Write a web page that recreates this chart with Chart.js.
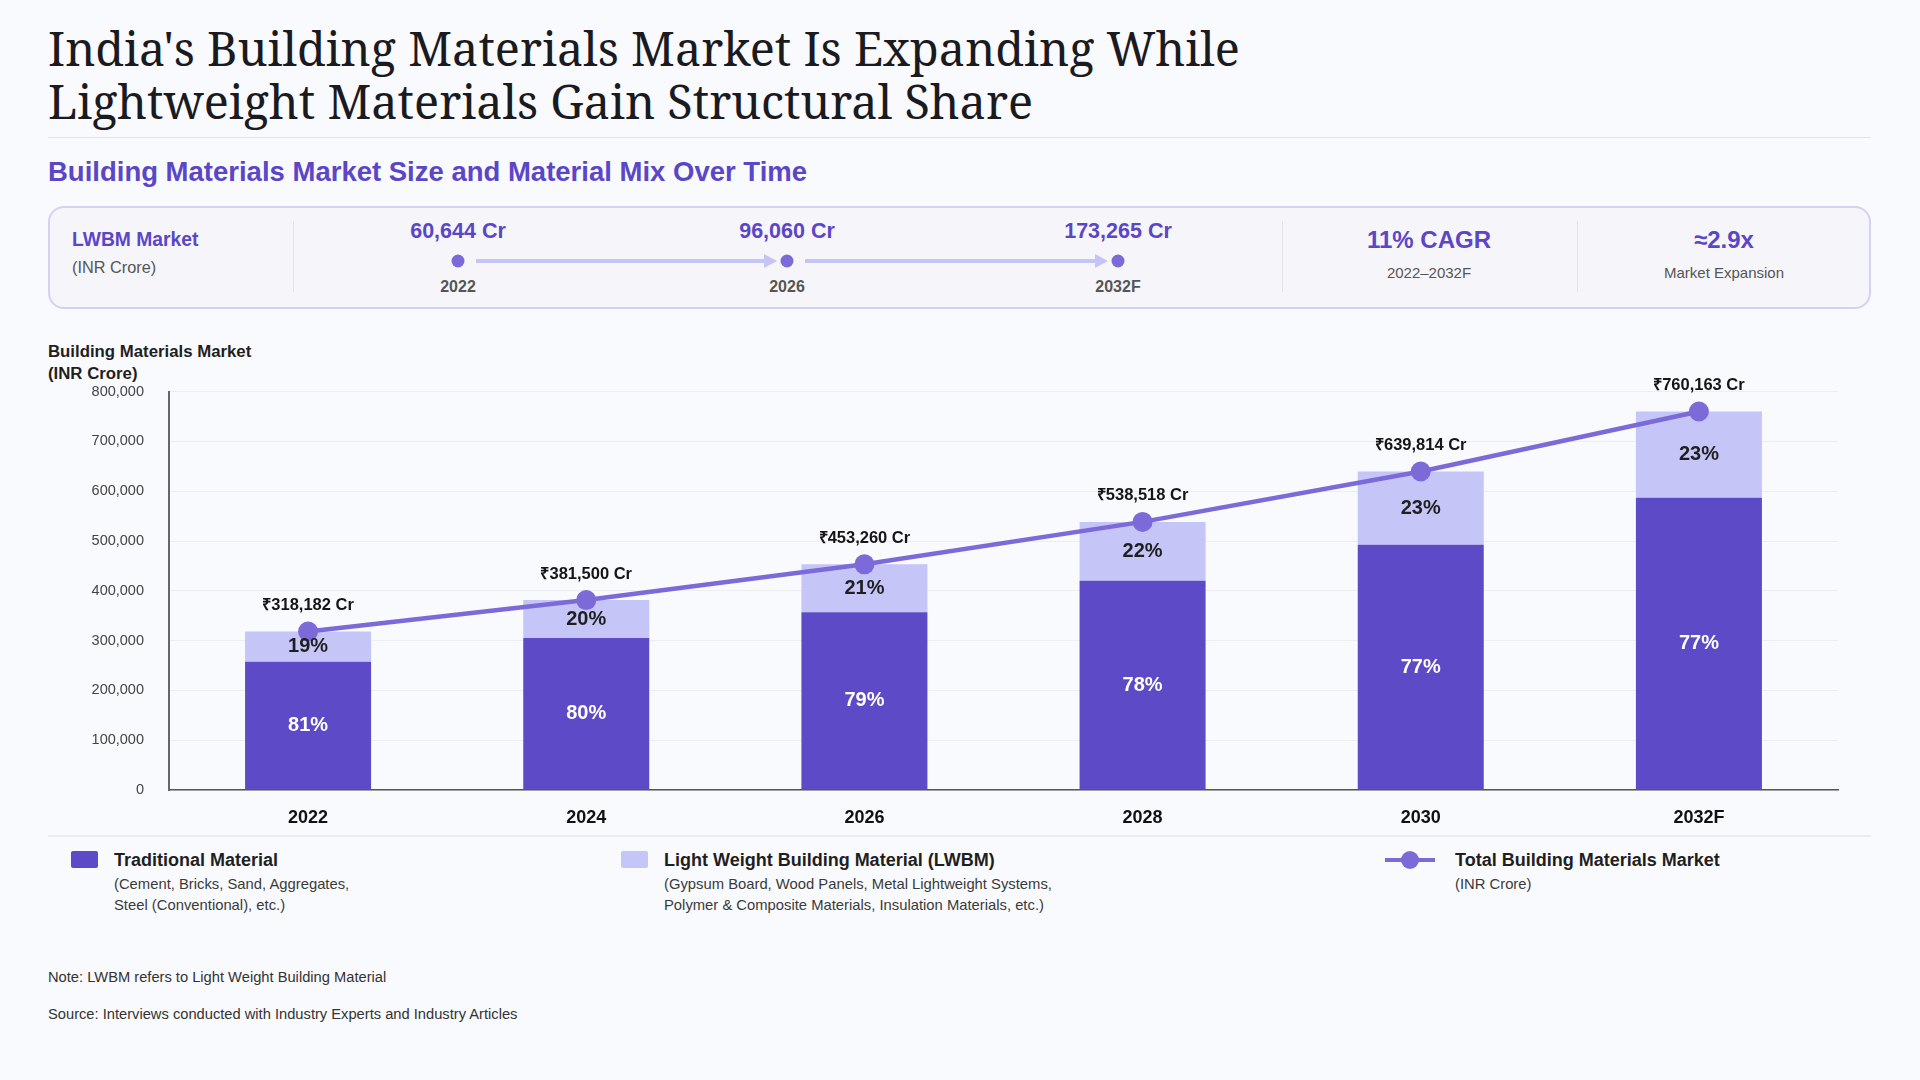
<!DOCTYPE html>
<html lang="en">
<head>
<meta charset="UTF-8" />
<title>India Building Materials Market</title>
<script src="https://cdn.jsdelivr.net/npm/chart.js"></script>
<style>
  body {
    margin: 0;
    width: 1920px;
    height: 1080px;
    position: relative;
    overflow: hidden;
    background: #f9fafd;
    font-family: "Liberation Sans", Arial, sans-serif;
    color: #222;
  }
  .c { position: absolute; transform: translate(-50%, -50%); white-space: nowrap; }
  .l { position: absolute; transform: translateY(-50%); white-space: nowrap; }
  h1 {
    position: absolute;
    left: 48px;
    top: 22px;
    margin: 0;
    font-family: "Noto Serif", "DejaVu Serif", serif;
    font-weight: normal;
    font-size: 46.8px;
    line-height: 53px;
    color: #1b1b1f;
  }
  .rule { position: absolute; left: 48px; width: 1823px; height: 1px; background: #e2e3e9; }
  h2 {
    margin: 0;
    font-size: 27.5px;
    color: #5b46c8;
  }
  .kpi {
    position: absolute;
    left: 48px;
    top: 206px;
    width: 1819px;
    height: 99px;
    border: 2px solid #d3d1f4;
    border-radius: 16px;
    background: #f6f6fa;
  }
  .divider { position: absolute; top: 221px; width: 1px; height: 71px; background: #e3e3ea; }
  .purple { color: #5b46c8; font-weight: bold; }
  .grey { color: #555; }
  .dot { position: absolute; width: 13px; height: 13px; border-radius: 50%; background: #7d6ad9; transform: translate(-50%, -50%); }
  .arrow { position: absolute; height: 4px; background: #c5c4f5; }
  .arrow::after {
    content: "";
    position: absolute;
    right: -12px;
    top: -5px;
    border-left: 13px solid #c5c4f5;
    border-top: 7px solid transparent;
    border-bottom: 7px solid transparent;
  }
  #chartBox { position: absolute; left: 48px; top: 358px; width: 1800px; height: 482px; }
  .swatch { position: absolute; width: 27px; height: 17px; border-radius: 2px; }
  .lg-title { font-size: 18px; font-weight: bold; color: #1f1f1f; }
  .lg-sub { font-size: 14.8px; color: #3a3a3a; line-height: 21px; }
  .note { font-size: 14.7px; color: #333; }
</style>
</head>
<body>
  <h1>India's Building Materials Market Is Expanding While<br>Lightweight Materials Gain Structural Share</h1>
  <div class="rule" style="top:137px"></div>
  <h2 class="l" style="left:48px; top:172px">Building Materials Market Size and Material Mix Over Time</h2>

  <div class="kpi"></div>
  <div class="l purple" style="left:72px; top:240px; font-size:19.3px">LWBM Market</div>
  <div class="l grey" style="left:72px; top:267px; font-size:16.3px">(INR Crore)</div>
  <div class="divider" style="left:293px"></div>
  <div id="timeline"></div>
  <div class="divider" style="left:1282px"></div>
  <div class="c purple" style="left:1429px; top:240px; font-size:24px">11% CAGR</div>
  <div class="c grey" style="left:1429px; top:272px; font-size:15px">2022–2032F</div>
  <div class="divider" style="left:1577px"></div>
  <div class="c purple" style="left:1724px; top:240px; font-size:24px">≈2.9x</div>
  <div class="c grey" style="left:1724px; top:272px; font-size:15px">Market Expansion</div>

  <div class="l" style="left:48px; top:352px; font-size:16.8px; font-weight:bold; color:#1f1f1f">Building Materials Market</div>
  <div class="l" style="left:48px; top:374px; font-size:16.8px; font-weight:bold; color:#1f1f1f">(INR Crore)</div>

  <div id="chartBox"><canvas id="marketChart"></canvas></div>

  <div class="rule" style="top:835px; height:2px; background:#ebebf0"></div>

  <div class="swatch" style="left:71px; top:851px; background:#5d4ac6"></div>
  <div class="l lg-title" style="left:114px; top:860px">Traditional Material</div>
  <div class="lg-sub" style="position:absolute; left:114px; top:874px">(Cement, Bricks, Sand, Aggregates,<br>Steel (Conventional), etc.)</div>

  <div class="swatch" style="left:621px; top:851px; background:#c5c5f7"></div>
  <div class="l lg-title" style="left:664px; top:860px">Light Weight Building Material (LWBM)</div>
  <div class="lg-sub" style="position:absolute; left:664px; top:874px">(Gypsum Board, Wood Panels, Metal Lightweight Systems,<br>Polymer &amp; Composite Materials, Insulation Materials, etc.)</div>

  <div style="position:absolute; left:1385px; top:858px; width:50px; height:4px; background:#7d6ad9"></div>
  <div class="dot" style="left:1410px; top:860px; width:18px; height:18px"></div>
  <div class="l lg-title" style="left:1455px; top:860px">Total Building Materials Market</div>
  <div class="lg-sub" style="position:absolute; left:1455px; top:874px">(INR Crore)</div>

  <div class="l note" style="left:48px; top:977px">Note: LWBM refers to Light Weight Building Material</div>
  <div class="l note" style="left:48px; top:1014px">Source: Interviews conducted with Industry Experts and Industry Articles</div>

  <script>
    // chart data (INR crore)
    const years = ['2022', '2024', '2026', '2028', '2030', '2032F'];
    const traditional = [257538, 305200, 357200, 420044, 492657, 586898];
    const lwbm = [60644, 76300, 96060, 118474, 147157, 173265];
    const totals = [318182, 381500, 453260, 538518, 639814, 760163];
    const traditionalPct = [81, 80, 79, 78, 77, 77];
    const lwbmPct = [19, 20, 21, 22, 23, 23];
    const yTicks = [0, 100000, 200000, 300000, 400000, 500000, 600000, 700000, 800000];

    // LWBM timeline in the summary strip
    const kpiYears = ['2022', '2026', '2032F'];
    const kpiValues = [60644, 96060, 173265];
    const kpiX = [458, 787, 1118];

    const fmt = v => v.toLocaleString('en-US');

    let html = '';
    kpiYears.forEach((yr, i) => {
      html += `<div class="c purple" style="left:${kpiX[i]}px; top:231px; font-size:21.5px">${fmt(kpiValues[i])} Cr</div>`;
      html += `<div class="dot" style="left:${kpiX[i]}px; top:261px"></div>`;
      html += `<div class="c grey" style="left:${kpiX[i]}px; top:287px; font-size:16px; font-weight:bold">${yr}</div>`;
      if (i < kpiYears.length - 1) {
        const from = kpiX[i] + 18;
        const to = kpiX[i + 1] - 22;
        html += `<div class="arrow" style="left:${from}px; top:259px; width:${to - from}px"></div>`;
      }
    });
    document.getElementById('timeline').innerHTML = html;

    const labelPlugin = {
      id: 'segmentLabels',
      afterDatasetsDraw(chart) {
        const ctx = chart.ctx;
        const trad = chart.getDatasetMeta(0).data;
        const light = chart.getDatasetMeta(1).data;
        const pts = chart.getDatasetMeta(2).data;
        ctx.save();
        ctx.textAlign = 'center';
        ctx.textBaseline = 'middle';
        ctx.font = 'bold 20px "Liberation Sans", Arial, sans-serif';
        trad.forEach((bar, i) => {
          ctx.fillStyle = '#ffffff';
          ctx.fillText(traditionalPct[i] + '%', bar.x, (bar.y + bar.base) / 2);
        });
        light.forEach((bar, i) => {
          ctx.fillStyle = '#1f1f1f';
          ctx.fillText(lwbmPct[i] + '%', bar.x, (bar.y + bar.base) / 2);
        });
        ctx.font = 'bold 16.5px "Liberation Sans", Arial, sans-serif';
        pts.forEach((p, i) => {
          ctx.fillStyle = '#151515';
          ctx.fillText('₹' + fmt(totals[i]) + ' Cr', p.x, p.y - 26);
        });
        ctx.restore();
      }
    };

    const ctx = document.getElementById('marketChart').getContext('2d');
    new Chart(ctx, {
      type: 'bar',
      data: {
        labels: years,
        datasets: [
          {
            label: 'Traditional Material',
            data: traditional,
            backgroundColor: '#5d4ac6',
            stack: 'mix',
            order: 1,
            barPercentage: 0.453,
            categoryPercentage: 1.0
          },
          {
            label: 'Light Weight Building Material (LWBM)',
            data: lwbm,
            backgroundColor: '#c5c5f7',
            stack: 'mix',
            order: 1,
            barPercentage: 0.453,
            categoryPercentage: 1.0
          },
          {
            type: 'line',
            label: 'Total Building Materials Market',
            data: totals,
            stack: 'total',
            order: 0,
            borderColor: '#7d6ad9',
            backgroundColor: '#7d6ad9',
            borderWidth: 4.5,
            pointRadius: 10,
            pointBorderWidth: 0,
            tension: 0
          }
        ]
      },
      options: {
        responsive: true,
        maintainAspectRatio: false,
        animation: false,
        events: [],
        layout: { padding: { top: 11, right: 6, left: 0, bottom: 0 } },
        plugins: {
          legend: { display: false },
          tooltip: { enabled: false },
          title: { display: false }
        },
        scales: {
          x: {
            stacked: true,
            grid: { display: false, drawTicks: false },
            border: { display: true, color: '#555', width: 1.5 },
            ticks: {
              color: '#111',
              padding: 17,
              font: { family: '"Liberation Sans", Arial, sans-serif', size: 18, weight: 'bold' }
            },
            afterFit(s) { s.height = 50; }
          },
          y: {
            stacked: true,
            min: 0,
            max: 800000,
            grid: { color: '#eceef2', lineWidth: 1, drawTicks: false },
            border: { display: true, color: '#666', width: 2 },
            afterBuildTicks(s) { s.ticks = yTicks.map(v => ({ value: v })); },
            ticks: {
              color: '#444',
              padding: 25,
              font: { family: '"Liberation Sans", Arial, sans-serif', size: 14.5 },
              callback: v => fmt(v)
            },
            afterFit(s) { s.width = 121; }
          }
        }
      },
      plugins: [labelPlugin]
    });
  </script>
</body>
</html>
